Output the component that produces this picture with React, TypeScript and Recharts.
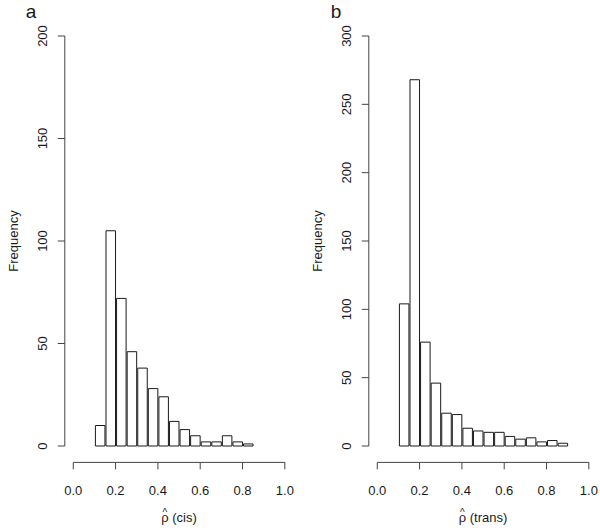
import React from "react";
import { BarChart, Bar, XAxis, YAxis, ReferenceLine } from "recharts";

// histogram bins (left edge), width 0.05
const binWidth = 0.05;
const cisBinStarts = [0.1, 0.15, 0.2, 0.25, 0.3, 0.35, 0.4, 0.45, 0.5, 0.55, 0.6, 0.65, 0.7, 0.75, 0.8];
const cisCounts = [10, 105, 72, 46, 38, 28, 24, 12, 8, 5, 2, 2, 5, 2, 1];

const transBinStarts = [0.1, 0.15, 0.2, 0.25, 0.3, 0.35, 0.4, 0.45, 0.5, 0.55, 0.6, 0.65, 0.7, 0.75, 0.8, 0.85];
const transCounts = [104, 268, 76, 46, 24, 23, 13, 11, 10, 10, 7, 5, 6, 3, 4, 2];

const xTickValues = [0, 0.2, 0.4, 0.6, 0.8, 1.0];
const cisYTicks = [0, 50, 100, 150, 200];
const transYTicks = [0, 50, 100, 150, 200, 250, 300];

const FONT = "'Liberation Sans', Arial, Helvetica, sans-serif";
const AXIS = "#444";
const INK = "#1a1a1a";

const CHART_W = 300;
const CHART_H = 528;
const Y_AXIS_W = 60;
const X_AXIS_H = 60;

const RotatedTick = (props: any) => {
  const { x, y, payload } = props;
  return (
    <text
      x={x}
      y={y}
      transform={`rotate(-90, ${x}, ${y})`}
      textAnchor="middle"
      fontSize={13}
      fontFamily={FONT}
      fill={INK}
    >
      {payload.value}
    </text>
  );
};

const FrequencyLabel = (props: any) => {
  const vb = props.viewBox || {};
  const x = (vb.x ?? 0) + (vb.width ?? 0) - 47;
  const y = (vb.y ?? 0) + (vb.height ?? 0) / 2;
  return (
    <text
      x={x}
      y={y}
      transform={`rotate(-90, ${x}, ${y})`}
      textAnchor="middle"
      fontSize={13}
      fontFamily={FONT}
      fill={INK}
    >
      Frequency
    </text>
  );
};

// rho with a hat over it, like R's hat(rho)
const RhoHatLabel = (props: any) => {
  const { suffix } = props;
  const vb = props.viewBox || {};
  const x = (vb.x ?? 0) + (vb.width ?? 0) / 2;
  const y = (vb.y ?? 0) + (vb.height ?? 0) - 0.5;
  const rhoW = 7.5;
  const hatW = 4.7;
  return (
    <text x={x} y={y} textAnchor="middle" fontSize={13} fontFamily={FONT} fill={INK}>
      {"\u03C1"}
      <tspan dx={-(rhoW / 2 + hatW / 2)} dy={-6} fontSize={10}>
        ^
      </tspan>
      <tspan dx={rhoW / 2 - hatW / 2} dy={6} fontSize={13}>
        {" " + suffix}
      </tspan>
    </text>
  );
};

interface PanelProps {
  letter: string;
  binStarts: number[];
  counts: number[];
  yMax: number;
  yTicks: number[];
  xSuffix: string;
  left: number;
  marginLeft: number;
  marginRight: number;
}

const Panel: React.FC<PanelProps> = ({ letter, binStarts, counts, yMax, yTicks, xSuffix, left, marginLeft, marginRight }) => {
  const rows = binStarts.map((lo, i) => ({ mid: lo + binWidth / 2, count: counts[i] }));
  const yMin = -0.04 * yMax;
  const yTop = yMax * 1.04;
  const plotW = CHART_W - marginLeft - Y_AXIS_W - marginRight;
  const barSize = (plotW / 1.08) * binWidth;

  return (
    <div style={{ position: "absolute", left, top: 0, width: CHART_W, height: CHART_H }}>
      <div
        style={{
          position: "absolute",
          left: letter === "a" ? 25.7 : 30.7,
          top: 2,
          fontFamily: FONT,
          fontSize: 19,
          lineHeight: "19px",
          color: INK,
        }}
      >
        {letter}
      </div>
      <BarChart
        width={CHART_W}
        height={CHART_H}
        data={rows}
        margin={{ top: 19.6, right: marginRight, bottom: 5.6, left: marginLeft }}
      >
        <XAxis
          dataKey="mid"
          type="number"
          domain={[-0.04, 1.04]}
          allowDataOverflow
          ticks={xTickValues}
          interval={0}
          tickFormatter={(v: number) => v.toFixed(1)}
          axisLine={false}
          tickLine={{ stroke: AXIS }}
          tickSize={7}
          tickMargin={16}
          height={X_AXIS_H}
          tick={{ fontSize: 13, fill: INK, fontFamily: FONT }}
          label={<RhoHatLabel suffix={xSuffix} />}
        />
        <YAxis
          type="number"
          domain={[yMin, yTop]}
          allowDataOverflow
          ticks={yTicks}
          interval={0}
          axisLine={false}
          tickLine={{ stroke: AXIS }}
          tickSize={7}
          tickMargin={11}
          width={Y_AXIS_W}
          tick={<RotatedTick />}
          label={<FrequencyLabel />}
        />
        <ReferenceLine segment={[{ x: 0, y: yMin }, { x: 1, y: yMin }]} stroke={AXIS} ifOverflow="visible" />
        <ReferenceLine segment={[{ x: -0.04, y: 0 }, { x: -0.04, y: yMax }]} stroke={AXIS} ifOverflow="visible" />
        <Bar dataKey="count" fill="#ffffff" stroke={INK} strokeWidth={1} barSize={barSize} isAnimationActive={false} />
      </BarChart>
    </div>
  );
};

export default function App() {
  return (
    <div style={{ position: "absolute", left: 0, top: 0, width: 600, height: 528, background: "#fff" }}>
      <Panel
        letter="a"
        binStarts={cisBinStarts}
        counts={cisCounts}
        yMax={200}
        yTicks={cisYTicks}
        xSuffix="(cis)"
        left={0}
        marginLeft={4.8}
        marginRight={6.7}
      />
      <Panel
        letter="b"
        binStarts={transBinStarts}
        counts={transCounts}
        yMax={300}
        yTicks={transYTicks}
        xSuffix="(trans)"
        left={300}
        marginLeft={8.8}
        marginRight={2.7}
      />
    </div>
  );
}
